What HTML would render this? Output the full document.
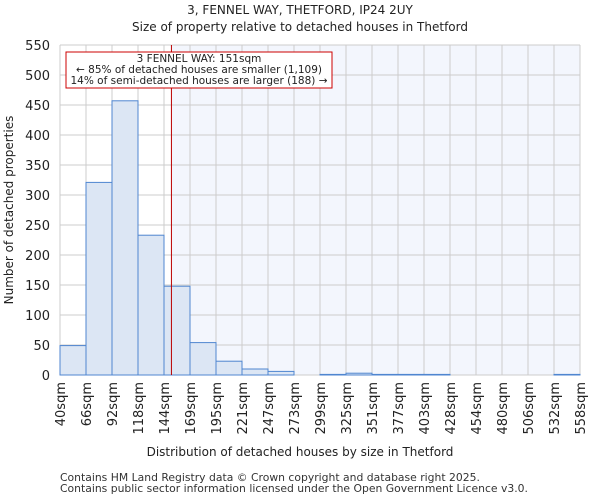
<!DOCTYPE html>
<html><head><meta charset="utf-8"><style>
body{margin:0;background:#fff;font-family:"DejaVu Sans","Liberation Sans",sans-serif;}
</style></head><body>
<svg width="600" height="500" xmlns="http://www.w3.org/2000/svg" font-family="DejaVu Sans, Liberation Sans, sans-serif">
<text x="300" y="14" text-anchor="middle" font-size="12" fill="#222">3, FENNEL WAY, THETFORD, IP24 2UY</text>
<text x="300" y="31" text-anchor="middle" font-size="12" fill="#222">Size of property relative to detached houses in Thetford</text>
<g id="plot"></g>
<text x="300" y="456" text-anchor="middle" font-size="12" fill="#222">Distribution of detached houses by size in Thetford</text>
<text transform="translate(13,210) rotate(-90)" text-anchor="middle" font-size="12" fill="#222">Number of detached properties</text>
<text x="60" y="481" font-size="10.8" fill="#333">Contains HM Land Registry data © Crown copyright and database right 2025.</text>
<text x="60" y="492" font-size="10.8" fill="#333">Contains public sector information licensed under the Open Government Licence v3.0.</text>
</svg>
<script>
const binLabels=["40sqm","66sqm","92sqm","118sqm","144sqm","169sqm","195sqm","221sqm","247sqm","273sqm","299sqm","325sqm","351sqm","377sqm","403sqm","428sqm","454sqm","480sqm","506sqm","532sqm","558sqm"];
const counts=[49,321,457,233,148,54,23,10,6,0,1,3,1,1,1,0,0,0,0,1];
const yTicks=[0,50,100,150,200,250,300,350,400,450,500,550];
const propertySize=151;
const xMinSqm=40, xMaxSqm=558;
const NS="http://www.w3.org/2000/svg";
const X0=60,X1=580,Y0=375,Y1=45,YMAX=550;
const bw=(X1-X0)/counts.length;
const xi=i=>X0+i*bw;
const xs=v=>X0+(v-xMinSqm)/(xMaxSqm-xMinSqm)*(X1-X0);
const y=v=>Y0-(v/YMAX)*(Y0-Y1);
const g=document.getElementById('plot');
function mk(t,a){const e=document.createElementNS(NS,t);for(const k in a)e.setAttribute(k,a[k]);g.appendChild(e);return e;}
const px=xs(propertySize);
let bg=mk('rect',{x:px,y:Y1,width:X1-px,height:Y0-Y1,fill:'#f3f6fd'});


yTicks.forEach(t=>{let l=mk('line',{x1:X0,x2:X1,y1:y(t),y2:y(t),stroke:'#ccc','stroke-width':1});


let tx=mk('text',{x:X0-10,y:y(t)+5,'text-anchor':'end','font-size':13,fill:'#222'});tx.textContent=t;

});
binLabels.forEach((s,i)=>{let l=mk('line',{x1:xi(i),x2:xi(i),y1:Y1,y2:Y0,stroke:'#ccc','stroke-width':1});


let tx=mk('text',{x:0,y:0,'text-anchor':'end','font-size':13,fill:'#222',transform:`translate(${xi(i)+5},${Y0+7}) rotate(-90)`});tx.textContent=s;

});
counts.forEach((c,i)=>{if(c<=0)return;let r=mk('rect',{x:xi(i),y:y(c),width:bw,height:Y0-y(c),fill:'#dce6f4',stroke:'#4f86d0','stroke-width':1});

});
let vl=mk('line',{x1:px,x2:px,y1:Y1,y2:Y0,stroke:'#b00','stroke-width':1});


let box=mk('rect',{x:66,y:52,width:266,height:36,fill:'#fff',stroke:'#c00','stroke-width':1});


["3 FENNEL WAY: 151sqm","← 85% of detached houses are smaller (1,109)","14% of semi-detached houses are larger (188) →"].forEach((s,k)=>{let t=mk('text',{x:199,y:62+k*11,'text-anchor':'middle','font-size':10.5,fill:'#222'});t.textContent=s;

});
</script>
</body></html>
